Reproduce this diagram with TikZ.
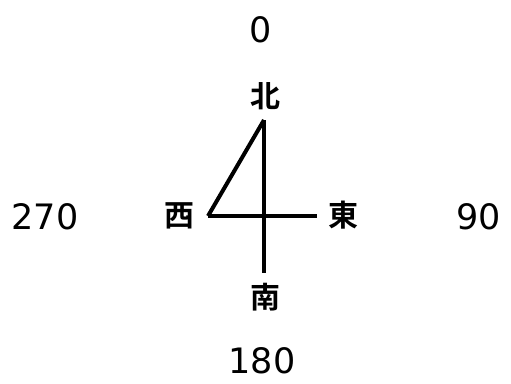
\documentclass[tikz,border=0pt]{standalone}
\usepackage{fontspec}
\setmainfont{DejaVu Sans}
\newfontfamily\cjk{Noto Sans CJK JP}[BoldFont={* Bold}]
\begin{document}
\begin{tikzpicture}[x=1pt,y=-1pt,
  num/.style={font=\fontsize{35}{38}\selectfont, inner sep=0pt},
  kanji/.style={font=\cjk\bfseries\fontsize{30}{32}\selectfont, inner sep=0pt},
  stroke/.style={line width=4pt}]
\useasboundingbox (0,0) rectangle (511,383);
\node[num] (n0) at (261,30) {0};
\node[num] (n90) at (479,217) {90};
\node[num] (n180) at (262,361) {180};
\node[num] (n270) at (45,217) {270};
\node[kanji] (kn) at (265,96) {北};
\node[kanji] (ke) at (343,215) {東};
\node[kanji] (ks) at (265,297) {南};
\node[kanji] (kw) at (179,216) {西};
\coordinate (top) at (264,120);
\coordinate (bot) at (264,273);
\coordinate (left) at (208,216);
\coordinate (right) at (317,216);
\draw[stroke] (top) -- (bot);
\draw[stroke] (left) -- (right);
\draw[stroke] (left) -- (top);
\end{tikzpicture}
\end{document}
